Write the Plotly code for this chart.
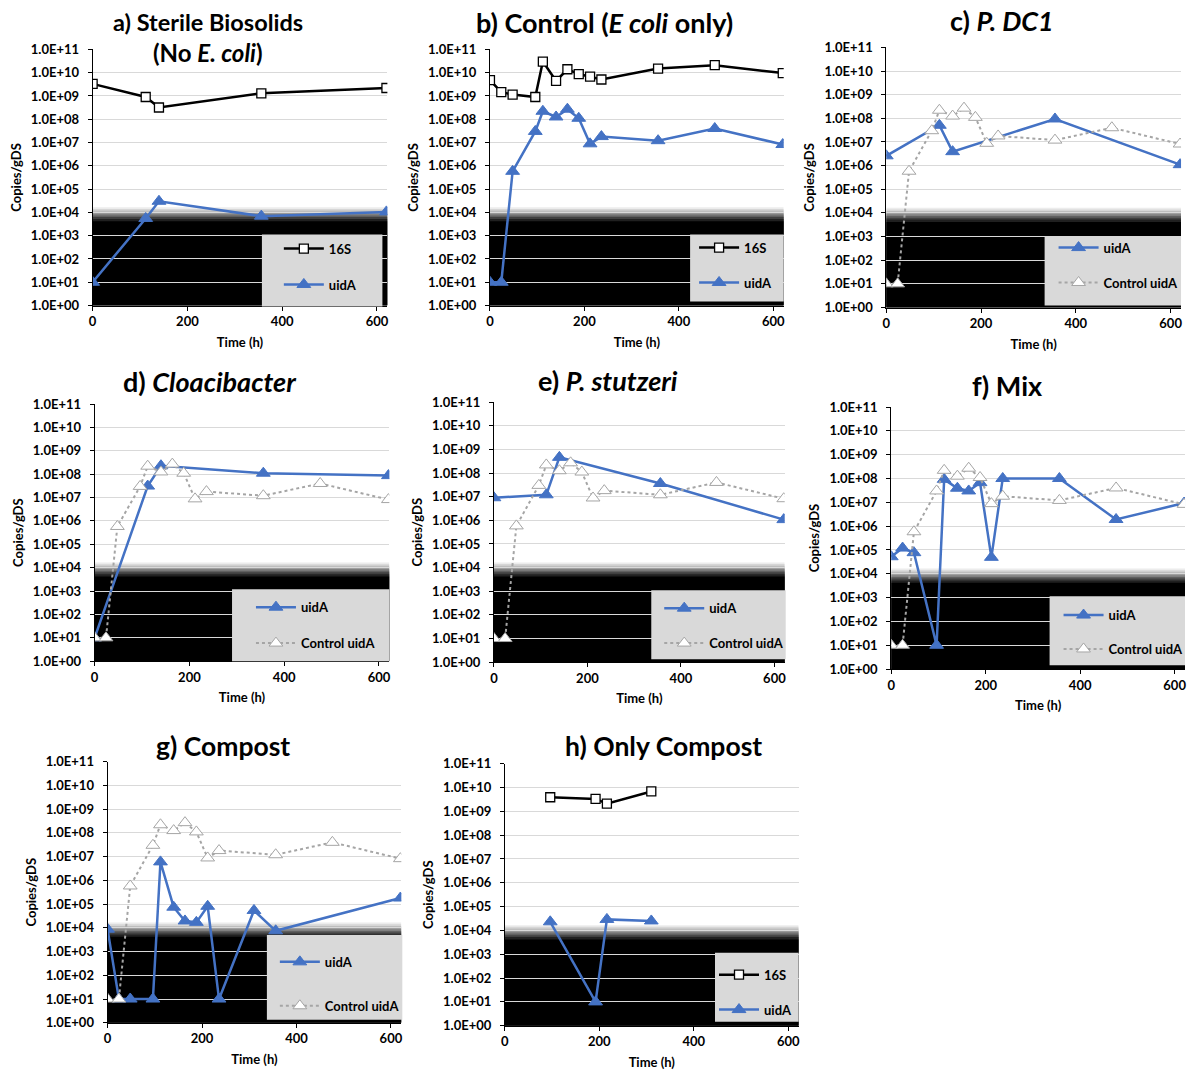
import plotly.graph_objects as go

W, H = 1191, 1082

# Sampling times (h)
t_full = [0, 24, 48, 96, 112, 140, 164, 188, 212, 236, 356, 476, 620]
t_sparse = [0, 112, 140, 356, 620]
t_compost = [0, 24, 48, 96, 112, 140, 164, 188, 212, 236, 310, 356, 620]
t_only_compost = [96, 192, 216, 310]

# Control (E. coli only) reactor, copies/gDS
control_16S = [4.8e9, 1.45e9, 1.15e9, 9.0e8, 3.0e10, 4.4e9, 1.4e10, 8.7e9, 6.7e9, 5.1e9, 1.5e10, 2.1e10, 9.6e9]
control_uidA = [10, 10, 5.8e5, 3.0e7, 2.2e8, 1.25e8, 2.7e8, 1.1e8, 8.8e6, 1.8e7, 1.2e7, 4.0e7, 8.2e6]

# Sterile biosolids (no E. coli)
sterile_16S = [3.3e9, 9.0e8, 3.2e8, 1.3e9, 2.2e9]
sterile_uidA = [10, 5.5e3, 3.0e4, 6.9e3, 1.05e4]

# Single-strain amendments
dc1_uidA = [2.6e6, 5.1e7, 3.9e6, 9.4e7, 1.1e6]
cloacibacter_uidA = [10, 3.1e7, 2.3e8, 1.1e8, 8.7e7]
stutzeri_uidA = [9.0e6, 1.2e7, 4.6e8, 3.6e7, 1.07e6]

# Mixed culture
mix_uidA = [5.2e4, 1.2e5, 7.7e4, 10, 9.2e7, 3.9e7, 3.0e7, 6.7e7, 4.9e4, 1.0e8, 1.0e8, 1.9e6, 9.3e6]

# Compost
compost_uidA = [8.8e3, 10, 10, 10, 6.0e6, 7.4e4, 1.95e4, 1.7e4, 8.1e4, 10, 5.4e4, 7.5e3, 1.8e5]

# Compost only
only_compost_16S = [3.9e9, 3.3e9, 2.1e9, 6.8e9]
only_compost_uidA = [2.3e4, 10, 2.9e4, 2.5e4]

decade_labels = ["1.0E+%02d" % k for k in range(12)]
decade_values = [10 ** k for k in range(12)]
time_ticks = [0, 200, 400, 600]

FONT = "Lato"
BLUE = "#4472C4"
GREY = "#A5A5A5"
X_MAX = 622

# Plot-area boxes in pixels (left, right, top, bottom), legend panel box,
# legend anchor and the gap between the two legend rows
panels = [
    dict(box=(89, 385, 42, 302), legend_box=(259, 380, 230, 303), legend_at=(276, 229), gap=16),
    dict(box=(488, 783, 42, 302), legend_box=(689, 783, 230, 298), legend_at=(693, 228), gap=15),
    dict(box=(886, 1182, 40, 304), legend_box=(1045, 1182, 232, 302), legend_at=(1054, 228), gap=15),
    dict(box=(91, 387, 402, 663), legend_box=(229, 387, 590, 663), legend_at=(248, 593), gap=16),
    dict(box=(492, 784, 400, 664), legend_box=(650, 785, 591, 661), legend_at=(658, 594), gap=15),
    dict(box=(891, 1186, 405, 671), legend_box=(1050, 1186, 597, 667), legend_at=(1059, 601), gap=14),
    dict(box=(104, 399, 765, 1030), legend_box=(264, 400, 941, 1027), legend_at=(272, 953), gap=24),
    dict(box=(503, 798, 767, 1033), legend_box=(714, 798, 959, 1029), legend_at=(713, 966), gap=15),
]

titles = [
    [("a) Sterile Biosolids", 205, 14, 23.5), ("(No <i>E. coli</i>)", 205, 45, 24)],
    [("b) Control (<i>E coli</i> only)", 603, 15, 27)],
    [("c) <i>P. DC1</i>", 1002, 13, 27)],
    [("d) <i>Cloacibacter</i>", 207, 379, 27)],
    [("e) <i>P. stutzeri</i>", 607, 378, 27)],
    [("f) Mix", 1008, 383, 27)],
    [("g) Compost", 220, 749, 26.5)],
    [("h) Only Compost", 662, 749, 26.5)],
]

fig = go.Figure()


def ids(n):
    suffix = "" if n == 1 else str(n)
    return "x" + suffix, "y" + suffix, "legend" + suffix


def add_16s(n, x, y):
    xa, ya, lg = ids(n)
    fig.add_trace(go.Scatter(
        x=x, y=y, name="16S", mode="lines+markers", xaxis=xa, yaxis=ya,
        legend=lg, legendgroup="16S-%d" % n,
        line=dict(color="black", width=2.5),
        marker=dict(symbol="square", size=9, color="white",
                    line=dict(color="black", width=1.3)),
    ))


def add_uida(n, x, y):
    xa, ya, lg = ids(n)
    fig.add_trace(go.Scatter(
        x=x, y=y, name="uidA", mode="lines+markers", xaxis=xa, yaxis=ya,
        legend=lg, legendgroup="uidA-%d" % n,
        line=dict(color=BLUE, width=2.5),
        marker=dict(symbol="triangle-up", size=12, color=BLUE,
                    line=dict(color=BLUE, width=1)),
    ))


def add_control(n):
    xa, ya, lg = ids(n)
    fig.add_trace(go.Scatter(
        x=t_full, y=control_uidA, name="Control uidA", mode="lines+markers",
        xaxis=xa, yaxis=ya, legend=lg, legendgroup="ctrl-%d" % n,
        line=dict(color=GREY, width=2, dash="dot"),
        marker=dict(symbol="triangle-up", size=12, color="white",
                    line=dict(color=GREY, width=1)),
    ))


add_16s(1, t_sparse, sterile_16S)
add_uida(1, t_sparse, sterile_uidA)
add_16s(2, t_full, control_16S)
add_uida(2, t_full, control_uidA)
add_uida(3, t_sparse, dc1_uidA)
add_control(3)
add_uida(4, t_sparse, cloacibacter_uidA)
add_control(4)
add_uida(5, t_sparse, stutzeri_uidA)
add_control(5)
add_uida(6, t_full, mix_uidA)
add_control(6)
add_uida(7, t_compost, compost_uidA)
add_control(7)
add_16s(8, t_only_compost, only_compost_16S)
add_uida(8, t_only_compost, only_compost_uidA)

tick_font = dict(family=FONT, size=13, color="black", weight="bold")
label_font = dict(family=FONT, size=13, color="black", weight="bold")

# Shading of the quantification floor: black band whose top edge fades out.
# Each rect starts at the axis floor; lighter, taller ones are drawn first.
shade_steps = [
    (4.22, "#ececec"),
    (4.15, "#d6d6d6"),
    (4.08, "#bdbdbd"),
    (4.01, "#a0a0a0"),
    (3.94, "#808080"),
    (3.87, "#606060"),
    (3.80, "#404040"),
    (3.72, "#202020"),
    (3.62, "#000000"),
]

shapes = []
annotations = []
layout_axes = {}
for i, p in enumerate(panels):
    n = i + 1
    xa, ya, lg = ids(n)
    left, right, top, bottom = p["box"]
    xdom = [left / W, right / W]
    ydom = [1 - bottom / H, 1 - top / H]
    layout_axes["xaxis" + xa[1:]] = dict(
        domain=xdom, anchor=ya, range=[0, X_MAX], tickvals=time_ticks,
        showgrid=False, zeroline=False, showline=True, linecolor="black",
        linewidth=1, ticks="outside", ticklen=4, tickcolor="black",
        tickfont=dict(family=FONT, size=13, color="black", weight="bold"),
        title=dict(text="Time (h)", font=label_font, standoff=9),
    )
    layout_axes["yaxis" + ya[1:]] = dict(
        domain=ydom, anchor=xa, type="log", range=[0, 11],
        tickvals=decade_values, ticktext=decade_labels,
        showgrid=True, gridcolor="#d9d9d9", gridwidth=1, zeroline=False,
        showline=True, linecolor="black", linewidth=1, ticks="outside",
        ticklen=4, tickcolor="black", tickfont=tick_font,
        ticklabelstandoff=6,
        title=dict(text="Copies/gDS", font=label_font, standoff=6),
    )
    for hi, col in shade_steps:
        shapes.append(dict(
            type="rect", xref=xa, yref=ya, x0=0, x1=X_MAX,
            y0=1, y1=10 ** hi, fillcolor=col, line=dict(width=0),
            layer="below",
        ))
    lx0, lx1, ly0, ly1 = p["legend_box"]
    shapes.append(dict(
        type="rect", xref="paper", yref="paper", x0=lx0 / W, x1=lx1 / W,
        y0=1 - ly1 / H, y1=1 - ly0 / H, fillcolor="#d9d9d9",
        line=dict(width=0), layer="above",
    ))
    ax, ay = p["legend_at"]
    layout_axes[lg] = dict(
        x=ax / W, y=1 - ay / H, xanchor="left", yanchor="top",
        bgcolor="rgba(0,0,0,0)", borderwidth=0, traceorder="grouped",
        tracegroupgap=p["gap"], itemwidth=40,
        font=dict(family=FONT, size=13, color="black", weight="bold"),
    )
    for text, cx, cy, fs in titles[i]:
        annotations.append(dict(
            text=text, x=cx / W, y=1 - cy / H, xref="paper", yref="paper",
            xanchor="center", yanchor="middle", showarrow=False,
            font=dict(family=FONT, size=fs, color="black", weight="bold"),
        ))

fig.update_layout(
    width=W, height=H, margin=dict(l=0, r=0, t=0, b=0),
    paper_bgcolor="white", plot_bgcolor="white",
    shapes=shapes, annotations=annotations, showlegend=True,
    **layout_axes,
)

fig.write_html("out.html")
